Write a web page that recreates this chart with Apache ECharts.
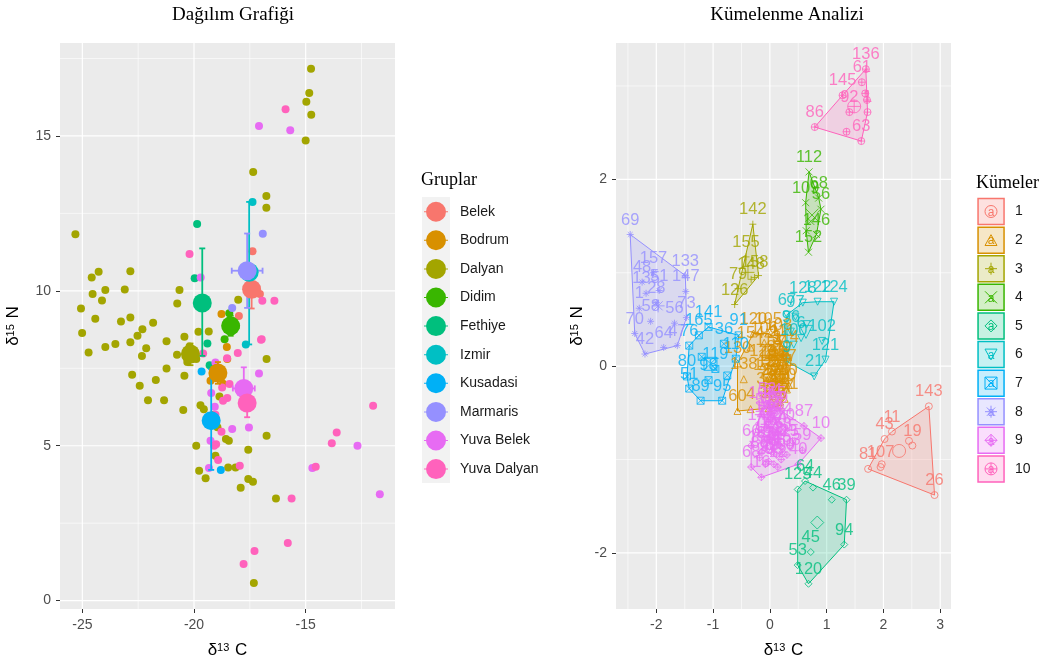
<!DOCTYPE html>
<html><head><meta charset="utf-8">
<script src="https://cdn.jsdelivr.net/npm/echarts@6/dist/echarts.min.js"></script>
<style>html,body{margin:0;padding:0;background:#fff}#c{width:1049px;height:664px}</style>
</head><body><div id="c"></div>
<script>
// ---------- LEFT PANEL DATA ----------
const groupNames = ['Belek','Bodrum','Dalyan','Didim','Fethiye','Izmir','Kusadasi','Marmaris','Yuva Belek','Yuva Dalyan'];
const groupColors = ['#F8766D','#D89000','#A3A500','#39B600','#00BF7D','#00BFC4','#00B0F6','#9590FF','#E76BF3','#FF62BC'];

const belek = [[-17.38,11.28],[-17.99,9.19],[-17.05,9.9]];
const bodrum = [[-18.77,9.25],[-18.53,8.19],[-18.51,7.8],[-19.26,7.1],[-19.05,7.6],[-18.7,7.0]];
const dalyan = [[-14.76,17.17],[-14.84,16.39],[-14.97,16.1],[-14.75,15.68],[-15.0,14.85],[-17.35,13.84],[-16.76,13.06],[-16.76,12.68],[-25.31,11.83],
 [-24.27,10.62],[-24.58,10.43],[-22.85,10.63],[-23.97,10.03],[-24.54,9.9],[-23.1,10.04],[-24.12,9.69],[-20.65,10.03],[-25.06,9.43],[-20.75,9.59],
 [-24.42,9.1],[-22.85,9.14],[-23.27,9.01],[-22.31,8.76],[-25.01,8.64],[-21.83,8.97],[-22.53,8.55],[-22.85,8.34],[-23.52,8.28],[-23.97,8.19],
 [-22.14,8.15],[-24.72,8.01],[-22.33,7.9],[-21.23,8.37],[-20.43,8.52],[-19.8,8.68],[-19.34,8.69],[-18.02,9.71],[-16.75,7.8],[-22.77,7.29],
 [-21.23,7.49],[-20.43,7.26],[-22.43,6.94],[-21.71,7.12],[-22.06,6.47],[-21.34,6.47],[-20.48,6.15],[-19.71,6.31],[-19.56,6.18],
 [-20.76,7.94],[-20.2,8.2],[-20.0,8.0],[-20.3,7.7],[-19.9,7.8],
 [-19.9,5.0],[-19.77,4.19],[-19.48,3.95],[-19.04,4.68],[-18.57,5.22],[-18.44,5.16],[-18.47,4.3],[-18.14,4.3],[-17.57,4.87],[-17.57,3.93],
 [-17.36,3.84],[-17.91,3.64],[-16.75,5.32],[-16.33,3.3],[-17.32,0.57],[-18.86,6.59],[-19.1,6.0],[-18.95,5.6]];
const didim = [[-18.42,9.28],[-18.63,8.44],[-18.2,8.8],[-18.5,8.95],[-18.3,8.7]];
const fethiye = [[-19.86,12.16],[-19.97,10.41],[-19.3,7.6],[-19.4,8.3]];
const izmir = [[-17.38,12.87],[-17.68,8.27],[-17.5,10.66]];
const kusadasi = [[-19.66,7.4],[-18.8,4.22],[-19.23,5.8]];
const marmaris = [[-16.92,11.84],[-18.29,9.45]];
const yuvaBelek = [[-17.09,15.32],[-15.69,15.18],[-19.7,10.43],[-17.09,7.33],[-19.04,7.69],[-18.29,5.54],[-17.54,5.59],[-19.26,5.16],
 [-19.33,4.28],[-14.7,4.28],[-12.68,5.0],[-11.68,3.43],[-19.23,6.7],[-19.07,6.26]];
const yuvaDalyan = [[-15.9,15.86],[-20.2,11.19],[-16.94,9.68],[-16.4,9.68],[-16.97,8.44],[-18.04,7.99],[-18.52,7.82],[-11.98,6.29],
 [-13.61,5.43],[-13.83,5.08],[-14.55,4.32],[-15.63,3.3],[-15.8,1.86],[-17.29,1.6],[-17.78,1.18],[-17.95,4.35],[-19.04,6.0],[-19.01,5.05],
 [-18.92,4.54],[-18.77,5.45],[-18.41,6.99],[-18.74,6.88],[-18.51,6.54],[-18.7,6.45],[-19.1,5.0],[-17.0,8.42],[-19.59,7.98]];
const groupPoints = [belek,bodrum,dalyan,didim,fethiye,izmir,kusadasi,marmaris,yuvaBelek,yuvaDalyan];

const groupMeans = [[-17.42,10.05],[-18.93,7.35],[-20.16,7.96],[-18.36,8.87],[-19.63,9.61],[-17.53,10.6],[-19.23,5.81],[-17.62,10.65],[-17.77,6.85],[-17.62,6.38]];
const groupErrX = [[-17.5,-17.35],[-19.1,-18.75],[-20.4,-19.9],[-18.6,-18.0],[-19.63,-19.63],[-17.78,-17.3],[-19.23,-19.23],[-18.31,-16.93],[-18.26,-17.28],[-17.7,-17.55]];
const groupErrY = [[9.43,10.67],[7.0,7.7],[7.6,8.3],[8.55,9.2],[7.9,11.37],[8.27,12.87],[4.22,7.47],[9.45,11.85],[6.17,7.53],[5.92,6.88]];

const leftXTicks = [-25,-20,-15];
const leftXMinor = [-22.5,-17.5,-12.5];
const leftYTicks = [0,5,10,15];
const leftYMinor = [2.5,7.5,12.5,17.5];

// ---------- RIGHT PANEL DATA ----------
const clusterNames = ['1','2','3','4','5','6','7','8','9','10'];
const cluster1 = [[2.80,-0.43,'143'],[2.15,-0.70,'11'],[2.02,-0.78,'43'],[2.51,-0.85,'19'],[1.73,-1.10,'81'],[1.95,-1.08,'107'],[2.90,-1.38,'26'],[2.45,-0.80,''],[1.97,-1.05,'']];
const cluster2 = [[-0.29,0.35,'120'],[-0.03,0.35,'105'],[-0.34,0.20,'154'],[-0.57,0.03,'130'],[-0.46,-0.14,'138'],[-0.57,-0.48,'60'],[-0.34,-0.46,'4'],[0.33,-0.20,'40'],
 [0.05,0.20,'2'],[0.12,0.15,'3'],[0.20,0.10,'7'],[0.02,0.05,'8'],[0.10,0.00,'13'],[0.18,-0.02,'14'],[0.25,0.02,'17'],[-0.05,-0.05,'18'],[0.08,-0.10,'22'],
 [0.15,-0.12,'23'],[0.22,-0.15,'27'],[0.00,-0.20,'29'],[0.06,-0.25,'30'],[0.14,-0.28,'31'],[0.20,-0.30,'32'],[-0.08,-0.30,'33'],[0.03,-0.38,'34'],
 [0.10,-0.40,'35'],[0.17,-0.42,'37'],[-0.02,-0.45,'38'],[0.28,-0.10,'41'],[0.30,-0.25,'50'],
 [-0.10,0.25,'106'],[0.15,0.28,'108'],[0.22,0.22,'111'],[-0.02,0.12,'113'],[0.28,0.15,'114'],[0.06,-0.02,'115'],[0.14,-0.05,'116'],[0.24,-0.05,'117'],
 [-0.12,0.00,'123'],[0.02,-0.12,'127'],[0.12,-0.20,'129'],[0.26,-0.35,'131'],[0.05,-0.32,'132'],[-0.05,-0.15,'134'],[0.18,-0.38,'137']];
const cluster3 = [[-0.30,1.52,'142'],[-0.42,1.17,'155'],[-0.27,0.95,'158'],[-0.33,0.93,'148'],[-0.56,0.83,'79'],[-0.62,0.66,'126'],[-0.20,0.97,'']];
const cluster4 = [[0.69,2.08,'112'],[0.63,1.75,'109'],[0.86,1.80,'68'],[0.90,1.68,'56'],[0.82,1.41,'146'],[0.68,1.22,'152'],[0.72,1.55,''],[0.64,1.45,'']];
const cluster5 = [[0.49,-1.32,'125'],[0.62,-1.23,'64'],[0.76,-1.30,'44'],[1.09,-1.43,'46'],[1.35,-1.43,'39'],[1.31,-1.91,'94'],[0.72,-1.99,'45'],[0.49,-2.13,'53'],[0.68,-2.33,'120']];
const cluster6 = [[1.13,0.69,'124'],[0.84,0.69,'122'],[0.58,0.68,'128'],[0.30,0.55,'67'],[0.45,0.53,'97'],[0.37,0.37,'96'],[0.92,0.27,'102'],[0.42,0.23,'100'],
 [0.98,0.07,'121'],[0.78,-0.11,'21'],[0.30,0.05,'9'],[0.55,0.30,'6'],[0.65,0.45,'']];
const cluster7 = [[-1.08,0.42,'141'],[-1.25,0.33,'165'],[-1.42,0.22,'76'],[-0.81,0.24,'36'],[-0.55,0.33,'91'],[-1.46,-0.11,'80'],[-0.96,-0.03,'119'],
 [-1.08,-0.15,'98'],[-1.42,-0.24,'51'],[-1.22,-0.37,'89'],[-0.84,-0.37,'95'],[-0.60,0.08,'110'],[-1.20,0.10,''],[-0.75,-0.10,'']];
const cluster8 = [[-2.46,1.41,'69'],[-2.05,1.00,'157'],[-1.49,0.97,'133'],[-2.25,0.90,'48'],[-2.18,0.78,'135'],[-1.95,0.81,'51'],[-1.48,0.80,'147'],
 [-2.00,0.68,'28'],[-2.30,0.62,'1'],[-2.10,0.48,'58'],[-1.68,0.46,'56'],[-1.47,0.52,'73'],[-2.38,0.35,'70'],[-1.87,0.20,'64'],[-1.63,0.22,'47'],[-2.20,0.13,'42']];
const cluster9 = [[0.90,-0.77,'10'],[0.60,-0.64,'87'],[0.57,-0.90,'59'],[-0.33,-0.85,'66'],[-0.33,-1.08,'68'],[-0.15,-1.19,'16'],[0.50,-1.05,'40'],[0.00,-0.50,'118'],[0.28,-0.68,'70'],
 [-0.05,-0.40,'52'],[0.05,-0.42,'54'],[0.12,-0.45,'55'],[-0.10,-0.52,'57'],[0.02,-0.55,'62'],[0.10,-0.58,'65'],[-0.06,-0.65,'71'],[0.04,-0.68,'72'],[0.14,-0.70,'74'],
 [-0.12,-0.75,'75'],[0.00,-0.78,'77'],[0.08,-0.82,'78'],[0.18,-0.85,'82'],[-0.08,-0.88,'83'],[0.03,-0.92,'84'],[0.12,-0.95,'85'],[-0.18,-0.98,'88'],
 [-0.02,-1.02,'90'],[0.07,-1.05,'93'],[0.20,-1.00,'100'],[0.30,-0.95,'103'],
 [-0.14,-0.45,'104'],[0.08,-0.50,'139'],[-0.03,-0.60,'140'],[0.16,-0.62,'144'],[-0.15,-0.68,'149'],[0.06,-0.74,'150'],[-0.04,-0.82,'151'],[0.14,-0.78,'153'],
 [-0.14,-0.92,'156'],[0.08,-0.88,'24'],[0.22,-0.92,'25'],[-0.08,-1.05,'20'],[0.14,-1.08,'12'],[0.35,-0.85,'15'],[0.40,-0.80,'5']];
const cluster10 = [[1.69,3.18,'136'],[1.62,3.04,'61'],[1.28,2.90,'145'],[1.72,2.72,'1'],[1.40,2.72,'92'],[0.79,2.56,'86'],[1.61,2.41,'63'],[1.68,2.92,''],[1.35,2.51,''],[1.71,2.85,'']];
const clusterPoints = [cluster1,cluster2,cluster3,cluster4,cluster5,cluster6,cluster7,cluster8,cluster9,cluster10];

const rightXTicks = [-2,-1,0,1,2,3];
const rightXMinor = [-2.5,-1.5,-0.5,0.5,1.5,2.5];
const rightYTicks = [-2,0,2];
const rightYMinor = [-1,1,3];

// ---------- layout / style ----------
const leftXRange = [-26, -11], leftYRange = [-0.27, 18.0];
const rightXRange = [-2.71, 3.19], rightYRange = [-2.6, 3.46];
const circlePath = 'M0,5A5,5,0,1,1,10,5A5,5,0,1,1,0,5Z';
const symbolPaths = [
  circlePath,
  'M5,0L10,9L0,9Z',
  'M5,0L5,10M0,5L10,5',
  'M0,0L10,10M10,0L0,10',
  'M5,0L10,5L5,10L0,5Z',
  'M0,1L10,1L5,10Z',
  'M0,0L10,0L10,10L0,10ZM0,0L10,10M10,0L0,10',
  'M5,0L5,10M0,5L10,5M1.5,1.5L8.5,8.5M8.5,1.5L1.5,8.5',
  'M5,0L10,5L5,10L0,5ZM5,0L5,10M0,5L10,5',
  circlePath + 'M5,0L5,10M0,5L10,5'
];
const groupKeyIcon = 'path://M2,10A10,10,0,1,1,22,10A10,10,0,1,1,2,10ZM0,9.5L24,9.5L24,10.5L0,10.5Z';
function rgba(hex, a){const n=parseInt(hex.slice(1),16);return `rgba(${n>>16},${(n>>8)&255},${n&255},${a})`;}
function hull(pts){
  const p = pts.map(d=>[d[0],d[1]]).sort((a,b)=>a[0]-b[0]||a[1]-b[1]);
  const cross=(o,a,b)=>(a[0]-o[0])*(b[1]-o[1])-(a[1]-o[1])*(b[0]-o[0]);
  const lo=[],up=[];
  for(const q of p){while(lo.length>=2&&cross(lo[lo.length-2],lo[lo.length-1],q)<=0)lo.pop();lo.push(q);}
  for(let i=p.length-1;i>=0;i--){const q=p[i];while(up.length>=2&&cross(up[up.length-2],up[up.length-1],q)<=0)up.pop();up.push(q);}
  up.pop();lo.pop();return lo.concat(up);
}
const sans = 'Liberation Sans, Arial, sans-serif';
const serif = 'Liberation Serif, Times New Roman, serif';

function gridSeries(gi, xMaj, xMin, yMaj, yMin, xr, yr){
  return {
    type:'custom', xAxisIndex:gi, yAxisIndex:gi, z:1, silent:true, label:{show:false},
    data:[[xr[0], yr[0]]],
    renderItem:function(params, api){
      const cs = params.coordSys; const ch=[];
      const vline=(v,w)=>{const x=api.coord([v,yr[0]])[0];ch.push({type:'line',shape:{x1:x,y1:cs.y,x2:x,y2:cs.y+cs.height},style:{stroke:'#fff',lineWidth:w}});};
      const hline=(v,w)=>{const y=api.coord([xr[0],v])[1];ch.push({type:'line',shape:{x1:cs.x,y1:y,x2:cs.x+cs.width,y2:y},style:{stroke:'#fff',lineWidth:w}});};
      xMin.forEach(v=>vline(v,0.6)); yMin.forEach(v=>hline(v,0.6));
      xMaj.forEach(v=>vline(v,1.2)); yMaj.forEach(v=>hline(v,1.2));
      return {type:'group',children:ch};
    }
  };
}

const series = [];
series.push(gridSeries(0, leftXTicks, leftXMinor, leftYTicks, leftYMinor, leftXRange, leftYRange));
series.push(gridSeries(1, rightXTicks, rightXMinor, rightYTicks, rightYMinor, rightXRange, rightYRange));

groupNames.forEach((n,i)=>{
  series.push({name:n,type:'scatter',xAxisIndex:0,yAxisIndex:0,z:3,data:groupPoints[i],symbolSize:8,
    itemStyle:{color:groupColors[i],opacity:1}});
});
groupNames.forEach((n,i)=>{
  series.push({name:n,type:'custom',xAxisIndex:0,yAxisIndex:0,z:4,silent:true,label:{show:false},
    itemStyle:{color:groupColors[i]},
    data:[[groupMeans[i][0],groupMeans[i][1],groupErrX[i][0],groupErrX[i][1],groupErrY[i][0],groupErrY[i][1]]],
    renderItem:function(params, api){
      const cx=api.value(0),cy=api.value(1);
      const a=api.coord([cx,api.value(4)]), b=api.coord([cx,api.value(5)]);
      const l=api.coord([api.value(2),cy]), r=api.coord([api.value(3),cy]);
      const st={stroke:groupColors[i],lineWidth:1.8};
      const ch=[
        {type:'line',shape:{x1:a[0],y1:a[1],x2:b[0],y2:b[1]},style:st},
        {type:'line',shape:{x1:l[0],y1:l[1],x2:r[0],y2:r[1]},style:st},
        {type:'line',shape:{x1:a[0]-3,y1:a[1],x2:a[0]+3,y2:a[1]},style:st},
        {type:'line',shape:{x1:b[0]-3,y1:b[1],x2:b[0]+3,y2:b[1]},style:st},
        {type:'line',shape:{x1:l[0],y1:l[1]-3,x2:l[0],y2:l[1]+3},style:st},
        {type:'line',shape:{x1:r[0],y1:r[1]-3,x2:r[0],y2:r[1]+3},style:st}
      ];
      return {type:'group',children:ch};
    }});
});
groupNames.forEach((n,i)=>{
  series.push({name:n,type:'scatter',xAxisIndex:0,yAxisIndex:0,z:5,data:[groupMeans[i]],symbolSize:19,
    itemStyle:{color:groupColors[i],opacity:1}});
});

clusterNames.forEach((n,i)=>{
  const c = groupColors[i];
  const h = hull(clusterPoints[i]);
  series.push({name:n,type:'custom',xAxisIndex:1,yAxisIndex:1,z:2,silent:true,label:{show:false},
    itemStyle:{color:c},
    data:[h[0]],
    renderItem:function(params, api){
      const pts=h.map(p=>api.coord(p));
      return {type:'polygon',shape:{points:pts},style:{fill:rgba(c,0.2),stroke:c,lineWidth:1}};
    }});
});
clusterNames.forEach((n,i)=>{
  const c = groupColors[i];
  const pts = clusterPoints[i];
  const mx = pts.reduce((s,p)=>s+p[0],0)/pts.length, my = pts.reduce((s,p)=>s+p[1],0)/pts.length;
  series.push({name:n,type:'scatter',xAxisIndex:1,yAxisIndex:1,z:3,data:pts,symbol:'path://'+symbolPaths[i],symbolSize:7,
    itemStyle:{color:'rgba(0,0,0,0)',borderColor:c,borderWidth:1},
    label:{show:true,position:'top',distance:2,formatter:p=>p.data[2],color:c,fontSize:16.5,fontFamily:sans}});
  series.push({name:n,type:'scatter',xAxisIndex:1,yAxisIndex:1,z:3,data:[[mx,my]],symbol:'path://'+symbolPaths[i],symbolSize:13,
    label:{show:false},itemStyle:{color:'rgba(0,0,0,0)',borderColor:c,borderWidth:1}});
});

// legend key glyphs for the cluster legend (drawn without a coordinate system)
series.push({type:'custom',coordinateSystem:'none',silent:true,z:20,label:{show:false},
  data:clusterNames.map((n,i)=>i),
  renderItem:function(params, api){
    const i = params.dataIndex; const cy = 211.5 + i*28.6; const c = groupColors[i];
    return {type:'group',children:[
      {type:'path',shape:{pathData:symbolPaths[i],x:985,y:cy-6,width:12,height:12},style:{fill:'none',stroke:c,lineWidth:1}},
      {type:'text',x:991,y:cy+1,style:{text:'a',font:'12px '+sans,fill:c,align:'center',verticalAlign:'middle'}}
    ]};
  }});

const nameRich = {a:{fontSize:17,fontFamily:sans,color:'#000'},b:{fontSize:11,fontFamily:sans,color:'#000',verticalAlign:'top',padding:[0,1,0,0]}};
function mkX(gi, range, ticks){
  return {type:'value',gridIndex:gi,min:range[0],max:range[1],
    name:'{a|δ}{b|13}{a| C}',nameLocation:'middle',nameGap:33,nameTextStyle:{rich:nameRich},
    axisLine:{show:false,onZero:false},splitLine:{show:false},
    axisTick:{show:true,length:4,lineStyle:{color:'#333',width:1},customValues:ticks},
    axisLabel:{customValues:ticks,color:'#4D4D4D',fontSize:14,fontFamily:sans,margin:9}};
}
function mkY(gi, range, ticks, gap){
  return {type:'value',gridIndex:gi,min:range[0],max:range[1],
    name:'{a|δ}{b|15}{a| N}',nameLocation:'middle',nameGap:gap,nameRotate:90,nameTextStyle:{rich:nameRich},
    axisLine:{show:false,onZero:false},splitLine:{show:false},
    axisTick:{show:true,length:4,lineStyle:{color:'#333',width:1},customValues:ticks},
    axisLabel:{customValues:ticks,color:'#4D4D4D',fontSize:14,fontFamily:sans,margin:9}};
}

const graphics = [
  {type:'text',x:233,y:15,style:{text:'Dağılım Grafiği',font:'19px '+serif,fill:'#000',align:'center',verticalAlign:'middle'}},
  {type:'text',x:787,y:15,style:{text:'Kümelenme Analizi',font:'19px '+serif,fill:'#000',align:'center',verticalAlign:'middle'}},
  {type:'text',x:421,y:180,style:{text:'Gruplar',font:'18px '+serif,fill:'#000',align:'left',verticalAlign:'middle'}},
  {type:'text',x:976,y:183,style:{text:'Kümeler',font:'18px '+serif,fill:'#000',align:'left',verticalAlign:'middle'}},
  {type:'rect',z:-1,shape:{x:422,y:197,width:28,height:286},style:{fill:'#F2F2F2'}}
];

const option = {
  animation:false,
  backgroundColor:'#fff',
  grid:[
    {left:60,top:43,width:335,height:567,show:true,backgroundColor:'#EBEBEB',borderWidth:0},
    {left:616,top:43,width:335,height:567,show:true,backgroundColor:'#EBEBEB',borderWidth:0}
  ],
  xAxis:[mkX(0,leftXRange,leftXTicks), mkX(1,rightXRange,rightXTicks)],
  yAxis:[mkY(0,leftYRange,leftYTicks,38), mkY(1,rightYRange,rightYTicks,30)],
  legend:[
    {orient:'vertical',left:424,top:201.7,padding:0,itemWidth:24,itemHeight:20,itemGap:8.6,icon:groupKeyIcon,selectedMode:false,
      data:groupNames,textStyle:{fontSize:14,fontFamily:sans,color:'#1A1A1A',padding:[0,0,0,7]}},
    {orient:'vertical',left:977.3,top:197.8,padding:0,itemWidth:26,itemHeight:26,itemGap:1.1,selectedMode:false,
      data:clusterNames.map((n,i)=>({name:n,icon:'rect',itemStyle:{color:rgba(groupColors[i],0.22),borderColor:groupColors[i],borderWidth:1.5}})),
      textStyle:{fontSize:14,fontFamily:sans,color:'#1A1A1A',padding:[0,0,0,6]}}
  ],
  graphic:graphics,
  series:series
};
const chart = echarts.init(document.getElementById('c'),null,{renderer:'canvas'});
chart.setOption(option);
</script></body></html>
